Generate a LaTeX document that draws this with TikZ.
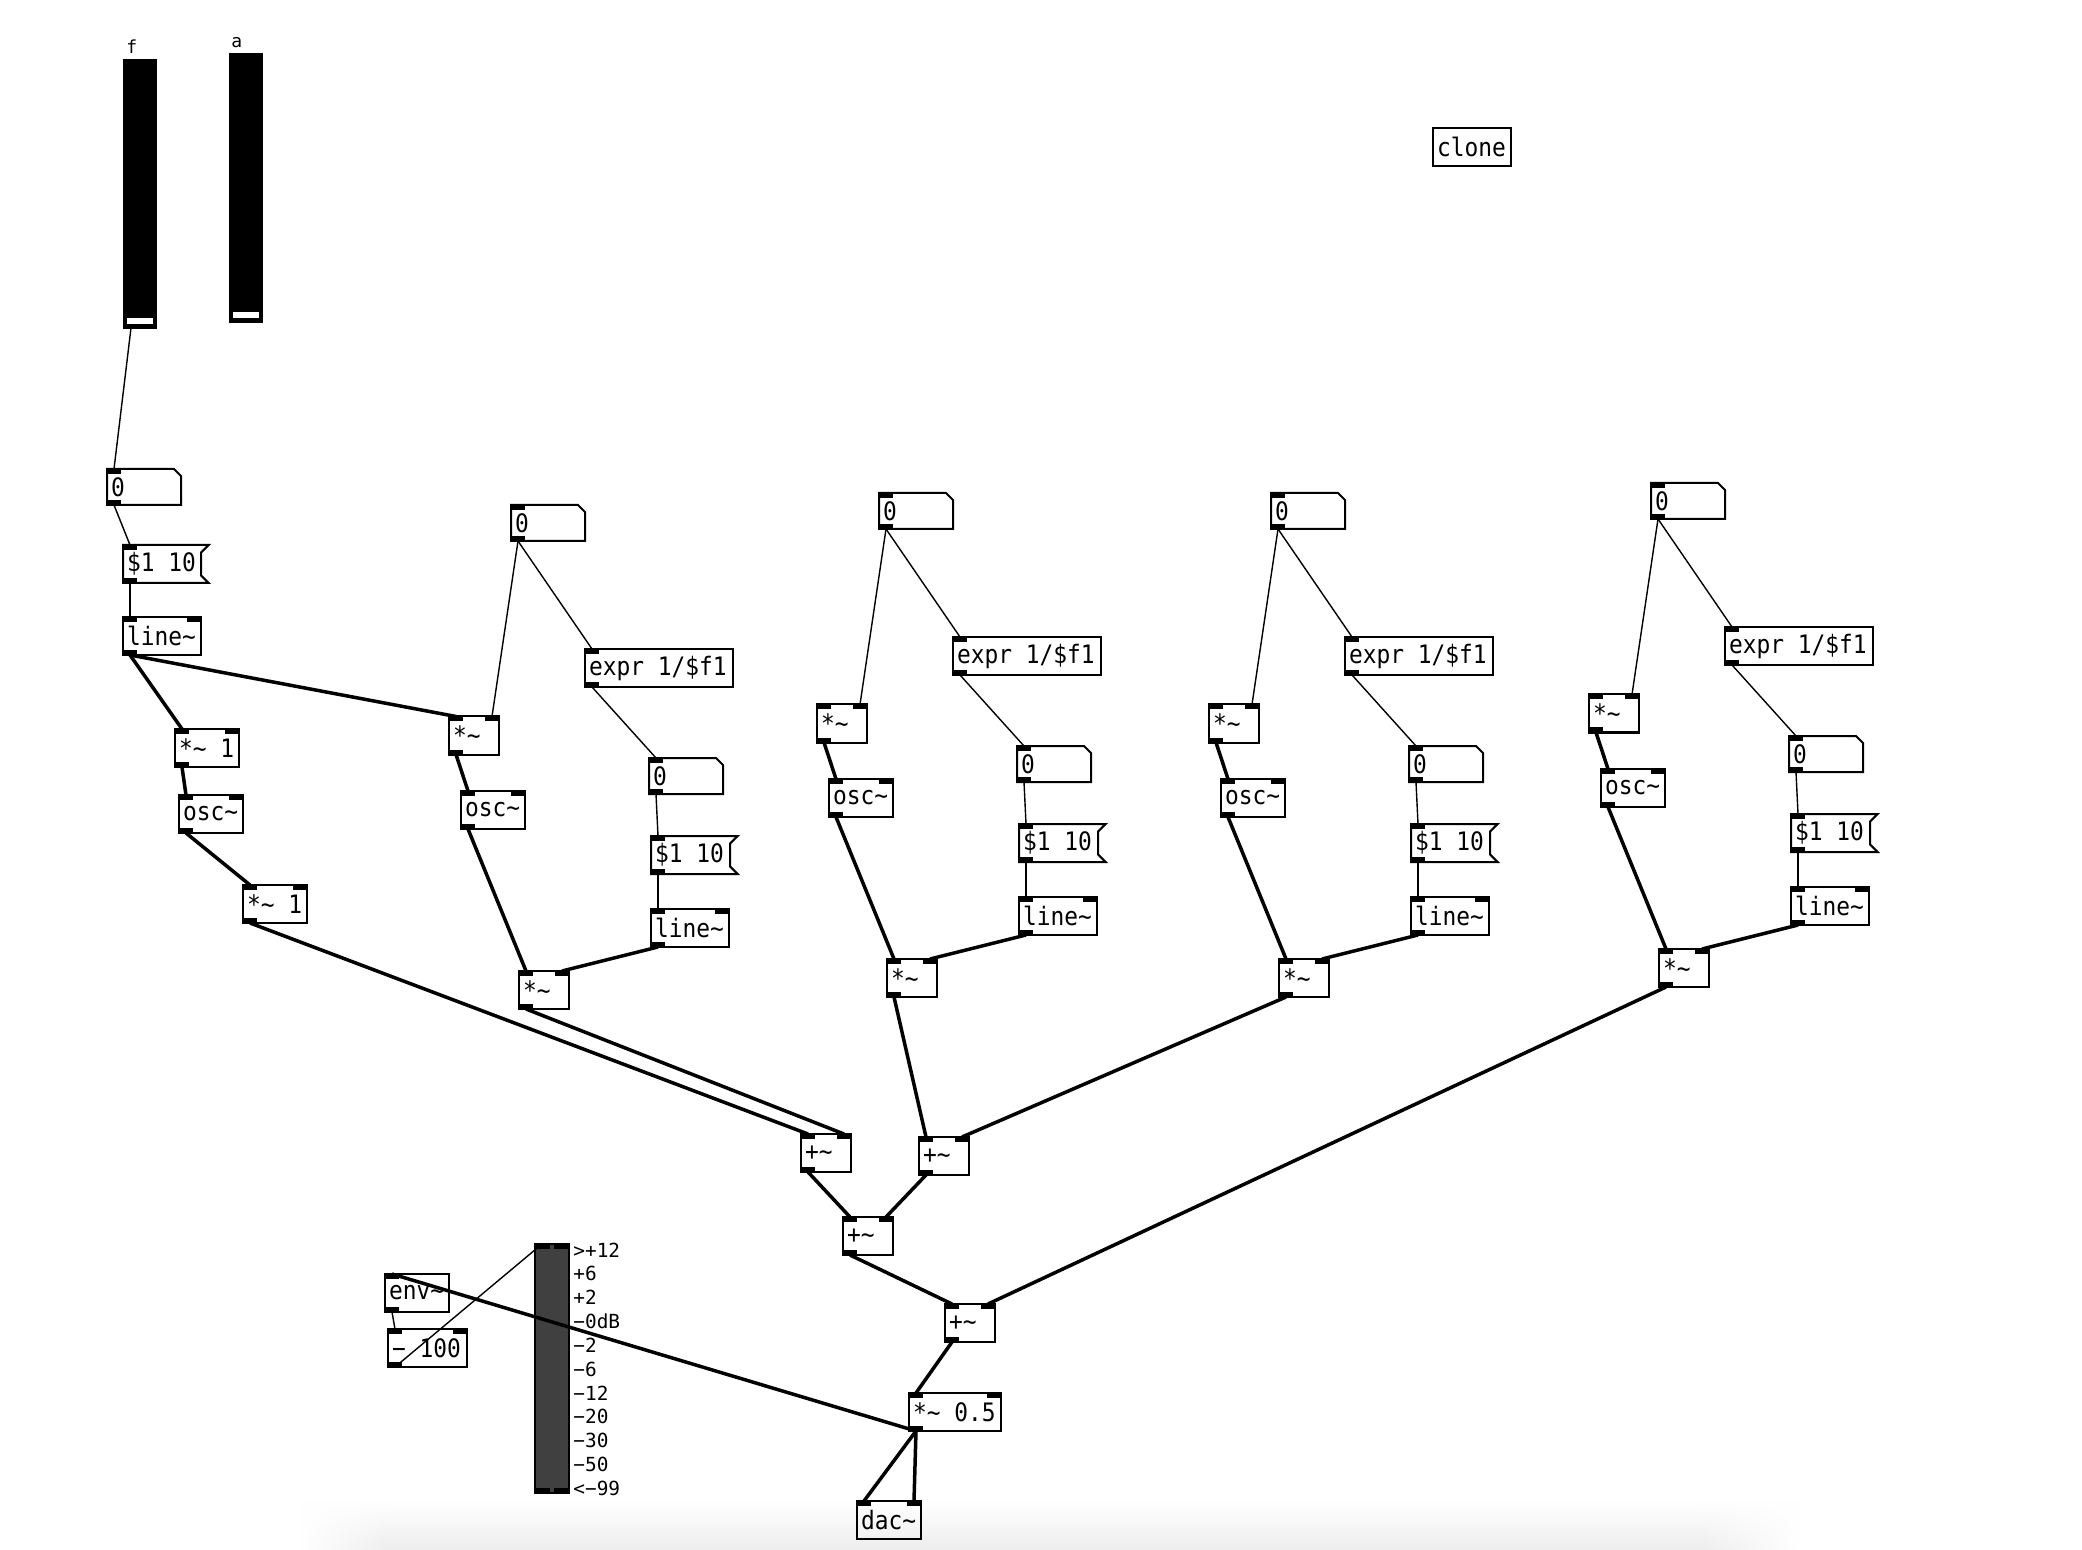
\documentclass[tikz,border=0pt]{standalone}
\usepackage{fontspec}
\newfontfamily\pdmono[FakeStretch=0.9]{DejaVu Sans Mono}
\newfontfamily\pdmonoplain{DejaVu Sans Mono}
\usetikzlibrary{fadings}
\definecolor{vugray}{HTML}{404040}
\newcommand\ptl{\textasciitilde}
\tikzset{
  pdbox/.style={anchor=north west, inner xsep=2pt, inner ysep=0pt, outer sep=0pt,
    minimum height=19pt, line width=1pt,
    font=\pdmono\fontsize{12.7}{13}\selectfont},
  boxline/.style={line width=1pt, line join=miter},
  sig/.style={line width=1.75pt},
  ctl/.style={line width=0.7pt},
  fader/.style={draw=black, fill=black, anchor=north west, minimum width=16pt,
    minimum height=134pt, inner sep=0pt, outer sep=0pt, line width=0.8pt},
  lbl/.style={font=\pdmonoplain\fontsize{9}{10}\selectfont, inner sep=0pt},
  vulbl/.style={font=\pdmonoplain\fontsize{9.7}{10}\selectfont, inner sep=0pt, anchor=west},
}
\newcommand\inl[1]{\fill (#1.north west) rectangle ++(14,5);}
\newcommand\inr[1]{\fill (#1.north east) rectangle ++(-14,5);}
\newcommand\outl[1]{\fill (#1.south west) rectangle ++(14,-5);}
\newcommand\one[1]{\inl{#1}\outl{#1}}
\newcommand\two[1]{\inl{#1}\inr{#1}\outl{#1}}
\newcommand\pdo[5]{\pgfmathsetmacro\pdtw{#4/2-4}\node[pdbox,draw] (#1) at ({#2},{#3}) {\makebox[\pdtw pt][l]{#5}};}
\newcommand\pdnum[4]{\pgfmathsetmacro\pdtw{#4/2-4}\node[pdbox,minimum height=18pt] (#1) at ({#2},{#3}) {\makebox[\pdtw pt][l]{0}};
  \draw[boxline] (#1.north west) -- ([xshift=-3.5pt]#1.north east) -- ([yshift=-3.5pt]#1.north east) -- (#1.south east) -- (#1.south west) -- cycle;
  \one{#1}}
\newcommand\pdmsg[5]{\pgfmathsetmacro\pdtw{#4/2-4}\node[pdbox] (#1) at ({#2},{#3}) {\makebox[\pdtw pt][l]{#5}};
  \draw[boxline] (#1.north west) -- ([xshift=3.8pt]#1.north east) -- ([yshift=-3.8pt]#1.north east) -- ([yshift=3.8pt]#1.south east) -- ([xshift=3.8pt]#1.south east) -- (#1.south west) -- cycle;
  \one{#1}}
\newcommand\outp[1]{([xshift=3.5pt]#1.south west)}
\newcommand\inlp[1]{([xshift=3.5pt]#1.north west)}
\newcommand\inrp[1]{([xshift=-3.5pt]#1.north east)}
\begin{document}
\begin{tikzpicture}[x=0.5pt,y=-0.5pt]
\useasboundingbox (0,0) rectangle (2082,1550);
\fill[white] (0,0) rectangle (2082,1550);
% bottom window shadow
\shade[top color=white,bottom color=black!7] (390,1500) rectangle (1700,1550);
\shade[top color=white,bottom color=black!7,path fading=west] (300,1500) rectangle (390,1550);
\shade[top color=white,bottom color=black!7,path fading=east] (1700,1500) rectangle (1800,1550);

% faders
\node[fader] (ff) at (124,60) {};
\fill[white] (127,318) rectangle (153,324);
\node[fader] (fa) at (230,54) {};
\fill[white] (233,312) rectangle (259,318);
\node[lbl,anchor=base west] (lf) at (126,54) {f};
\node[lbl,anchor=base west] (la) at (231,48) {a};

% clone
\pdo{clone}{1433}{128}{78}{clone}

% column 0
\pdnum{n0}{107}{469}{74}
\pdmsg{m0}{123}{545}{78}{\$1 10}
\pdo{l0}{123}{617}{78}{line\ptl}\two{l0}
\pdo{a1}{175}{729}{64}{*\ptl{} 1}\two{a1}
\pdo{o0}{179}{795}{64}{osc\ptl}\two{o0}
\pdo{a2}{243}{885}{64}{*\ptl{} 1}\two{a2}

% bottom mixer
\pdo{pA}{801}{1134}{50}{+\ptl}\two{pA}
\pdo{pB}{919}{1137}{50}{+\ptl}\two{pB}
\pdo{pC}{843}{1217}{50}{+\ptl}\two{pC}
\pdo{pD}{945}{1304}{50}{+\ptl}\two{pD}
\pdo{mh}{909}{1393}{92}{*\ptl{} 0.5}\two{mh}
\pdo{dac}{857}{1501}{64}{dac\ptl}\inl{dac}\inr{dac}
\pdo{env}{385}{1274}{64}{env\ptl}\one{env}
\pdo{sub}{388}{1329}{79}{− 100}\two{sub}

% vu meter
\node[draw=black, fill=vugray, line width=1pt, anchor=north west, minimum width=17pt,
  minimum height=124.5pt, inner sep=0pt, outer sep=0pt] (vu) at (535,1244) {};
\fill (vu.north west) rectangle ++(15,5);
\fill (vu.north east) rectangle ++(-15,5);
\fill (vu.south west) rectangle ++(15,-5);
\fill (vu.south east) rectangle ++(-15,-5);
\foreach \i/\t in {0/>+12,1/+6,2/+2,3/−0dB,4/−2,5/−6,6/−12,7/−20,8/−30,9/−50,10/<−99}{
  \node[vulbl] (vl\i) at (573,{1250+23.8*\i}) {\t};
}

% columns 1-4
\foreach \c/\dx/\dy in {1/-368/12,2/0/0,3/392/0,4/772/-10}{
  \pdnum{n\c}{879+(\dx)}{493+(\dy)}{74}
  \pdo{e\c}{953+(\dx)}{637+(\dy)}{148}{expr 1/\$f1}\one{e\c}
  \pdo{u\c}{817+(\dx)}{704.5+(\dy)}{50}{*\ptl}\two{u\c}
  \pdo{o\c}{829+(\dx)}{779+(\dy)}{64}{osc\ptl}\two{o\c}
  \pdnum{nb\c}{1017+(\dx)}{746+(\dy)}{74}
  \pdmsg{s\c}{1019+(\dx)}{824+(\dy)}{79}{\$1 10}
  \pdo{l\c}{1019+(\dx)}{897+(\dy)}{78}{line\ptl}\two{l\c}
  \pdo{p\c}{887+(\dx)}{959+(\dy)}{50}{*\ptl}\two{p\c}
  \draw[ctl] \outp{n\c} -- \inrp{u\c};
  \draw[ctl] \outp{n\c} -- \inlp{e\c};
  \draw[ctl] \outp{e\c} -- \inlp{nb\c};
  \draw[ctl] \outp{nb\c} -- \inlp{s\c};
  \draw[ctl] \outp{s\c} -- \inlp{l\c};
  \draw[sig] \outp{u\c} -- \inlp{o\c};
  \draw[sig] \outp{o\c} -- \inlp{p\c};
  \draw[sig] \outp{l\c} -- \inrp{p\c};
}

% column 0 connections
\draw[ctl] \outp{ff} -- \inlp{n0};
\draw[ctl] \outp{n0} -- \inlp{m0};
\draw[ctl] \outp{m0} -- \inlp{l0};
\draw[sig] \outp{l0} -- \inlp{a1};
\draw[sig] \outp{l0} -- \inlp{u1};
\draw[sig] \outp{a1} -- \inlp{o0};
\draw[sig] \outp{o0} -- \inlp{a2};
\draw[sig] \outp{a2} -- \inlp{pA};

% mixer connections
\draw[sig] \outp{p1} -- \inrp{pA};
\draw[sig] \outp{p2} -- \inlp{pB};
\draw[sig] \outp{p3} -- \inrp{pB};
\draw[sig] \outp{p4} -- \inrp{pD};
\draw[sig] \outp{pA} -- \inlp{pC};
\draw[sig] \outp{pB} -- \inrp{pC};
\draw[sig] \outp{pC} -- \inlp{pD};
\draw[sig] \outp{pD} -- \inlp{mh};
\draw[sig] \outp{mh} -- \inlp{dac};
\draw[sig] \outp{mh} -- \inrp{dac};
\draw[sig] \outp{mh} -- \inlp{env};
\draw[ctl] \outp{env} -- \inlp{sub};
\draw[ctl] \outp{sub} -- \inlp{vu};
\end{tikzpicture}
\end{document}
